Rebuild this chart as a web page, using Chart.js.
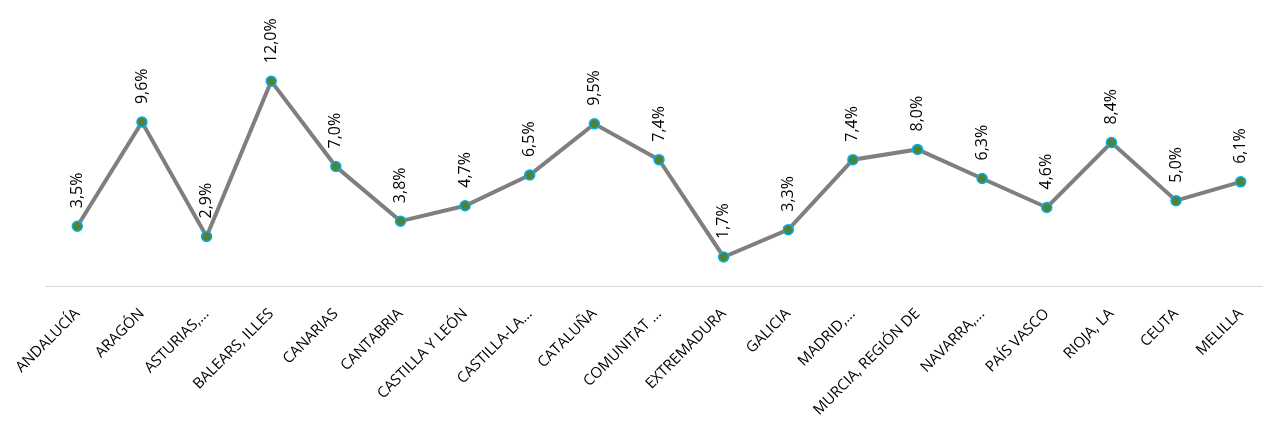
<!DOCTYPE html>
<html>
<head>
<meta charset="utf-8">
<script src="https://cdn.jsdelivr.net/npm/chart.js@4/dist/chart.umd.min.js"></script>
<style>
  html, body { margin: 0; padding: 0; background: #fff; overflow: hidden; }
  #wrap { position: relative; width: 1290px; height: 424px; }
</style>
</head>
<body>
<div id="wrap"><canvas id="chart"></canvas></div>
<script>
// Data
const regions = [
    'ANDALUCÍA', 'ARAGÓN', 'ASTURIAS,...', 'BALEARS, ILLES', 'CANARIAS',
    'CANTABRIA', 'CASTILLA Y LEÓN', 'CASTILLA-LA...', 'CATALUÑA', 'COMUNITAT ...',
    'EXTREMADURA', 'GALICIA', 'MADRID,...', 'MURCIA, REGIÓN DE', 'NAVARRA,...',
    'PAÍS VASCO', 'RIOJA, LA', 'CEUTA', 'MELILLA'
];
const rates = [3.5, 9.6, 2.9, 12.0, 7.0, 3.8, 4.7, 6.5, 9.5, 7.4, 1.7, 3.3, 7.4, 8.0, 6.3, 4.6, 8.4, 5.0, 6.1];

const fontFamily = '"Open Sans", "DejaVu Sans", sans-serif';

// Draw vertical value labels above each point
const valueLabels = {
    id: 'valueLabels',
    afterDatasetsDraw(chart) {
        const ctx = chart.ctx;
        const meta = chart.getDatasetMeta(0);
        ctx.save();
        ctx.fillStyle = '#000';
        ctx.font = '16px ' + fontFamily;
        ctx.textAlign = 'left';
        ctx.textBaseline = 'middle';
        meta.data.forEach((pt, i) => {
            const txt = rates[i].toFixed(1).replace('.', ',') + '%';
            ctx.save();
            ctx.translate(pt.x, pt.y - 18);
            ctx.rotate(-Math.PI / 2);
            ctx.fillText(txt, 0, 0);
            ctx.restore();
        });
        ctx.restore();
    }
};

const ctx = document.getElementById('chart').getContext('2d');
new Chart(ctx, {
    type: 'line',
    data: {
        labels: regions,
        datasets: [{
            data: rates,
            borderColor: '#7f7f7f',
            borderWidth: 4,
            pointRadius: 5,
            pointBorderWidth: 1.5,
            pointBackgroundColor: '#548235',
            pointBorderColor: '#00b0f0',
            tension: 0,
            fill: false
        }]
    },
    options: {
        responsive: true,
        maintainAspectRatio: false,
        animation: false,
        layout: { padding: { top: 47, left: 45, right: 17, bottom: 0 } },
        scales: {
            x: {
                offset: true,
                grid: { display: false },
                border: { display: true, color: '#d9d9d9', width: 1 },
                ticks: {
                    color: '#000',
                    font: { family: fontFamily, size: 15 },
                    minRotation: 45,
                    maxRotation: 45,
                    autoSkip: false,
                    padding: 11
                },
                afterFit: scale => { scale.height = 138; }
            },
            y: {
                display: false,
                min: 0,
                max: 14
            }
        },
        plugins: {
            legend: { display: false },
            tooltip: { enabled: false }
        }
    },
    plugins: [valueLabels]
});
</script>
</body>
</html>
